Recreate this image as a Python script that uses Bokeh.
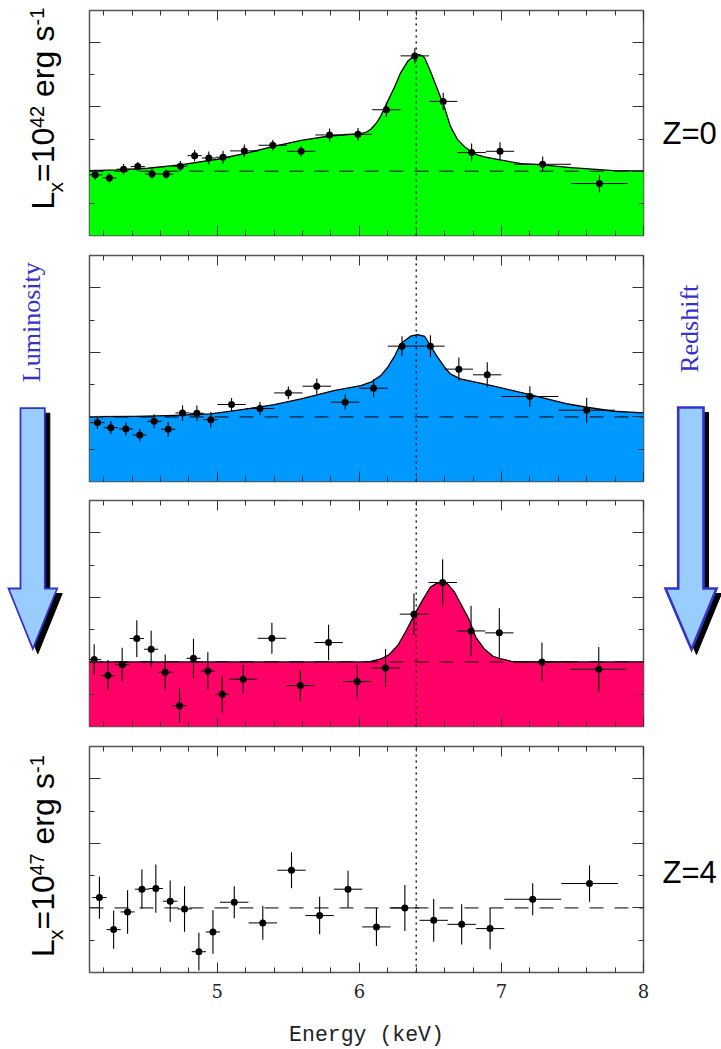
from bokeh.plotting import figure
from bokeh.layouts import row, column
from bokeh.models import FixedTicker, LinearAxis, Range1d, CustomLabelingPolicy
from bokeh.core.properties import value
from bokeh.embed import file_html
from bokeh.resources import INLINE
import math

# ---------- panel 1 (Z=0) ----------
x1 = [4.14,4.24,4.34,4.44,4.54,4.64,4.74,4.84,4.94,5.04,5.19,5.39,5.59,5.79,5.99,6.19,6.39,6.59,6.79,6.99,7.29,7.69]
y1 = [.972,.948,1.016,1.036,.979,.977,1.039,1.121,1.103,1.109,1.158,1.202,1.155,1.282,1.287,1.478,1.897,1.543,1.145,1.155,1.054,.904]
xe1 = [.05]*10 + [.1]*10 + [.2]*2
ye1 = [.039,.036,.041,.036,.036,.036,.04,.044,.05,.05,.05,.04,.04,.05,.05,.056,.06,.068,.07,.07,.06,.07]
mx1 = [4.10,4.30,4.51,4.74,5.00,5.19,5.39,5.59,5.79,6.01,6.05,6.08,6.12,6.15,6.20,6.25,6.29,6.34,6.37,6.39,6.42,6.44,6.46,6.50,6.55,6.60,6.64,6.69,6.74,6.79,6.83,6.88,6.99,7.14,7.29,7.49,7.79,8.00]
my1 = [1.005,1.010,1.023,1.049,1.093,1.137,1.191,1.240,1.274,1.292,1.305,1.326,1.375,1.429,1.545,1.661,1.765,1.855,1.885,1.899,1.907,1.900,1.881,1.778,1.636,1.494,1.351,1.248,1.191,1.150,1.127,1.111,1.088,1.059,1.049,1.028,1.005,1.003]

# ---------- panel 2 ----------
x2 = [4.156,4.25,4.356,4.454,4.555,4.654,4.755,4.856,4.954,5.10,5.30,5.50,5.70,5.90,6.10,6.30,6.50,6.70,6.90,7.20,7.60]
y2 = [.956,.917,.907,.860,.966,.904,1.031,1.028,.979,1.096,1.065,1.186,1.238,1.114,1.222,1.548,1.548,1.370,1.326,1.158,1.052]
xe2 = [.05]*9 + [.1]*10 + [.2]*2
ye2 = [.05,.05,.05,.05,.055,.055,.06,.06,.06,.05,.05,.05,.06,.06,.07,.076,.085,.09,.097,.08,.097]
mx2 = [4.10,4.415,4.65,4.954,5.21,5.40,5.59,5.82,6.01,6.08,6.15,6.20,6.25,6.29,6.33,6.36,6.41,6.46,6.50,6.55,6.60,6.64,6.71,6.90,7.20,7.47,7.60,7.79,8.00]
my2 = [1.003,1.005,1.010,1.023,1.062,1.096,1.14,1.204,1.243,1.269,1.32,1.385,1.475,1.566,1.600,1.625,1.638,1.623,1.553,1.463,1.385,1.333,1.295,1.251,1.173,1.10,1.075,1.044,1.031]

# ---------- panel 3 ----------
x3 = [4.133,4.23,4.33,4.433,4.534,4.633,4.734,4.832,4.933,5.034,5.182,5.384,5.584,5.783,5.985,6.184,6.384,6.586,6.786,6.985,7.285,7.685]
y3 = [1.018,.894,.979,1.181,1.098,.92,.661,1.028,.93,.749,.866,1.183,.817,1.15,.848,.953,1.37,1.615,1.24,1.225,1.0,.943]
xe3 = [.05]*10 + [.1]*10 + [.2]*2
ye3 = [.118,.12,.13,.142,.143,.137,.133,.152,.145,.14,.11,.12,.122,.137,.13,.148,.16,.18,.195,.19,.15,.173]
mx3 = [4.10,6.01,6.08,6.15,6.21,6.27,6.33,6.39,6.45,6.50,6.55,6.59,6.62,6.67,6.72,6.77,6.82,6.88,6.94,7.0,7.07,7.14,8.0]
my3 = [1.0,1.0,1.005,1.023,1.057,1.127,1.243,1.372,1.488,1.579,1.612,1.62,1.605,1.54,1.437,1.333,1.191,1.10,1.044,1.023,1.005,1.0,1.0]

# ---------- panel 4 (Z=4) ----------
x4 = [4.17,4.27,4.368,4.469,4.567,4.668,4.769,4.87,4.969,5.119,5.32,5.522,5.72,5.92,6.12,6.32,6.523,6.72,6.92,7.22,7.62]
y4 = [1.08,.832,.969,1.145,1.15,1.052,.992,.661,.814,1.044,.884,1.292,.941,1.145,.853,1.0,.904,.873,.84,1.067,1.189]
xe4 = [.05]*9 + [.1]*10 + [.2]*2
ye4 = [.164,.148,.168,.152,.187,.16,.176,.146,.168,.124,.13,.14,.145,.142,.147,.178,.165,.156,.16,.124,.142]

x_major = [5, 6, 7, 8]
x_minor = [4.2,4.4,4.6,4.8,5.2,5.4,5.6,5.8,6.2,6.4,6.6,6.8,7.2,7.4,7.6,7.8]
y_major = [1.0, 1.5, 2.0]
y_minor = [0.75, 1.25, 1.75]
continuum = 1.0
line_energy = 6.4
x_title = "Energy (keV)"

GREEN, BLUE, RED = "#00FF00", "#0099FF", "#FF0066"
TICK = "#333333"
FRAME = "#555555"
ARROW_FILL, ARROW_EDGE = "#99CCFF", "#3333CC"


def panel(height, top, bottom, x, y, xe, ye, mx=None, my=None, fill=None, labelled=False):
    p = figure(width=570, height=height, output_backend="svg", toolbar_location=None,
               x_range=Range1d(4.1, 8), y_range=Range1d(0.5, 2.25),
               x_axis_type=None, y_axis_type=None,
               min_border_left=8, min_border_right=8, min_border_top=top, min_border_bottom=bottom,
               outline_line_color=FRAME, outline_line_width=1.5)
    p.grid.visible = False
    for side in ("below", "above", "left", "right"):
        horizontal = side in ("below", "above")
        ticker = FixedTicker(ticks=x_major if horizontal else y_major,
                             minor_ticks=x_minor if horizontal else y_minor)
        ax = LinearAxis(ticker=ticker, axis_line_color=None,
                        major_tick_in=10 if horizontal else 11, major_tick_out=0,
                        minor_tick_in=5, minor_tick_out=0,
                        major_tick_line_color=TICK, minor_tick_line_color=TICK,
                        major_label_standoff=0, major_label_text_font_size="1px",
                        major_label_policy=CustomLabelingPolicy(code="return []"))
        if side == "below" and labelled:
            ax.major_label_policy = CustomLabelingPolicy(code="return indices")
            ax.major_label_text_font_size = "18px"
            ax.major_label_text_font = "DejaVu Serif"
            ax.major_label_text_color = "#222222"
            ax.major_label_standoff = 11
            ax.axis_label = x_title
            ax.axis_label_text_font = "Liberation Mono"
            ax.axis_label_text_font_style = "normal"
            ax.axis_label_text_font_size = "21.5px"
            ax.axis_label_text_color = "#222222"
            ax.axis_label_standoff = 22
        p.add_layout(ax, side)
    if mx is not None:
        p.varea(mx, [0.5] * len(mx), my, color=fill)
        p.line(mx, my, line_color="black", line_width=1.3, line_join="round")
    p.segment([4.1], [continuum], [8], [continuum], line_color="black", line_width=1, line_dash="14 11")
    p.segment([line_energy], [0.5], [line_energy], [2.25], line_color="black", line_width=1.3, line_dash="2 4")
    p.segment([a - b for a, b in zip(x, xe)], y, [a + b for a, b in zip(x, xe)], y, line_color="black", line_width=1)
    p.segment(x, [a - b for a, b in zip(y, ye)], x, [a + b for a, b in zip(y, ye)], line_color="black", line_width=1.1)
    p.scatter(x, y, size=7, marker="circle", fill_color="black", line_color=None)
    return p


def side_figure(width, x0, x1):
    p = figure(width=width, height=1049, output_backend="svg", toolbar_location=None,
               x_range=Range1d(x0, x1), y_range=Range1d(1049, 0),
               x_axis_type=None, y_axis_type=None,
               min_border=0, outline_line_color=None)
    p.grid.visible = False
    return p


def put(p, x, y, s, size, font="Liberation Sans", color="black", vertical=False):
    p.text([x - 0.47 * size if vertical else x], [y], text=[s], text_font=value(font), text_font_size=f"{size}px",
           text_color=color, text_align="left", text_baseline="alphabetic",
           angle=math.pi / 2 if vertical else 0)


def lx_label(p, exponent, dy):
    put(p, 58, 209 + dy, "L", 32, vertical=True)
    put(p, 65, 192 + dy, "x", 21, vertical=True)
    put(p, 58, 181.5 + dy, "=10", 32, vertical=True)
    put(p, 46, 127.5 + dy, exponent, 20, vertical=True)
    put(p, 58, 96.5 + dy, "erg", 32, vertical=True)
    put(p, 58, 41 + dy, "s", 32, vertical=True)
    put(p, 46, 25 + dy, "-1", 20, vertical=True)


def arrow(p, xl, xr, wl, wr, tip, top, neck, tipy, edge):
    xs = [xl, xr, xr, wr, tip, wl, xl]
    ys = [top, top, neck, neck, tipy, neck, neck]
    p.patch([v + 5 for v in xs], [v + 5 for v in ys], fill_color="black", line_color="black", line_width=1)
    p.patch(xs, ys, fill_color=ARROW_FILL, line_color=ARROW_EDGE, line_width=edge, line_join="miter")


f1 = panel(245, 10, 10, x1, y1, xe1, ye1, mx1, my1, GREEN)
f2 = panel(245, 10, 9, x2, y2, xe2, ye2, mx2, my2, BLUE)
f3 = panel(246, 10, 10, x3, y3, xe3, ye3, mx3, my3, RED)
f4 = panel(313, 10, 77, x4, y4, xe4, ye4, labelled=True)

left = side_figure(81, 0, 81)
lx_label(left, "42", 0)
lx_label(left, "47", 747.5)
put(left, 43.5, 381.7, "Luminosity", 26, "Liberation Serif", ARROW_EDGE, True)
arrow(left, 20, 44.3, 8, 56.7, 32.3, 407.7, 588, 648.3, 1.8)

right = side_figure(70, 651, 721)
put(right, 662, 133.3, "Z=0", 31)
put(right, 662, 871.7, "Z=4", 31)
put(right, 701.3, 372.3, "Redshift", 26, "Liberation Serif", ARROW_EDGE, True)
arrow(right, 677.7, 703, 665, 716, 691, 407, 588, 649, 2.6)

page = row(left, column(f1, f2, f3, f4, spacing=0), right, spacing=0)
open("out.html", "w").write(file_html(page, INLINE))
